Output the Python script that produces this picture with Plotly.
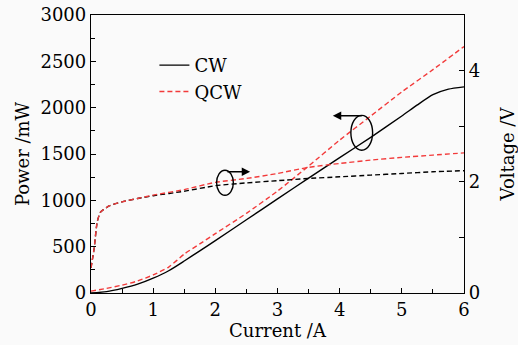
import plotly.graph_objects as go

# Power data (mW)
cw_current = [0, 0.25, 0.5, 0.75, 1, 1.25, 1.5, 1.75, 2, 2.5, 3, 3.5, 4, 4.5, 5, 5.25, 5.5, 5.75, 6]
cw_power = [0, 15, 50, 95, 160, 240, 345, 455, 565, 790, 1015, 1240, 1460, 1680, 1910, 2030, 2140, 2200, 2225]

qcw_current = [0, 0.25, 0.5, 0.75, 1, 1.25, 1.5, 1.75, 2, 2.5, 3, 3.5, 4, 4.5, 5, 5.5, 6]
qcw_power = [20, 50, 85, 130, 195, 280, 420, 530, 640, 860, 1100, 1370, 1650, 1910, 2170, 2410, 2660]

# Voltage data (V)
v_current = [0, 0.05, 0.1, 0.15, 0.2, 0.3, 0.5, 0.75, 1, 1.5, 2, 2.5, 3, 3.5, 4, 4.5, 5, 5.5, 6]
cw_voltage = [0.45, 0.8, 1.28, 1.45, 1.5, 1.57, 1.64, 1.7, 1.75, 1.83, 1.93, 1.98, 2.02, 2.06, 2.09, 2.12, 2.15, 2.18, 2.2]
qcw_voltage = [0.45, 0.8, 1.28, 1.45, 1.5, 1.57, 1.64, 1.7, 1.76, 1.86, 1.99, 2.06, 2.15, 2.26, 2.33, 2.39, 2.44, 2.48, 2.52]

voltage_ticks = [0, 1, 2, 3, 4, 5]
voltage_ticktext = ["0", "", "2", "", "4", ""]

RED = "#f23a3a"
FONT = "DejaVu Serif"
FS = 18

fig = go.Figure()
fig.add_trace(go.Scatter(x=cw_current, y=cw_power, name="CW", mode="lines",
                         line=dict(color="black", width=1.4, shape="spline", smoothing=0.6)))
fig.add_trace(go.Scatter(x=qcw_current, y=qcw_power, name="QCW", mode="lines",
                         line=dict(color=RED, width=1.4, dash="5px,3px", shape="spline", smoothing=0.6)))
fig.add_trace(go.Scatter(x=v_current, y=cw_voltage, yaxis="y2", mode="lines", showlegend=False,
                         line=dict(color="black", width=1.4, dash="5px,3px", shape="spline", smoothing=0.6)))
fig.add_trace(go.Scatter(x=v_current, y=qcw_voltage, yaxis="y2", mode="lines", showlegend=False,
                         line=dict(color=RED, width=1.4, dash="5px,3px", shape="spline", smoothing=0.6)))

# ellipses marking the axes
fig.add_shape(type="circle", xref="x", yref="y", x0=2.02, x1=2.29, y0=1055, y1=1325,
              line=dict(color="black", width=1.4))
fig.add_shape(type="circle", xref="x", yref="y", x0=4.18, x1=4.53, y0=1540, y1=1917,
              line=dict(color="black", width=1.4))
fig.add_annotation(x=2.56, y=1309, ax=2.17, ay=1309, xref="x", yref="y", axref="x", ayref="y",
                   text="", showarrow=True, arrowhead=2, arrowsize=1.2, arrowwidth=1.4, arrowcolor="black")
fig.add_annotation(x=3.89, y=1912, ax=4.38, ay=1912, xref="x", yref="y", axref="x", ayref="y",
                   text="", showarrow=True, arrowhead=2, arrowsize=1.2, arrowwidth=1.4, arrowcolor="black")

fig.update_layout(
    width=518, height=345,
    margin=dict(l=91, r=54, t=15, b=52, autoexpand=False),
    paper_bgcolor="#fafafa", plot_bgcolor="#fafafa",
    font=dict(family=FONT, size=FS, color="black"),
    showlegend=True,
    legend=dict(x=0.17, y=0.885, xanchor="left", yanchor="top", bgcolor="rgba(0,0,0,0)",
                font=dict(family=FONT, size=FS), tracegroupgap=0, itemwidth=30),
    xaxis=dict(range=[0, 6], dtick=1, showgrid=False, zeroline=False, automargin=False,
               showline=True, mirror=True, linecolor="black", linewidth=1.3,
               ticks="inside", ticklen=5, tickcolor="black",
               minor=dict(ticks="inside", ticklen=4, dtick=0.5, tickcolor="black"),
               title=dict(text="Current /A", standoff=2, font=dict(size=FS))),
    yaxis=dict(range=[0, 3000], dtick=500, showgrid=False, zeroline=False, automargin=False,
               showline=True, mirror=True, linecolor="black", linewidth=1.3,
               ticks="inside", ticklen=5, tickcolor="black",
               minor=dict(ticks="inside", ticklen=4, dtick=250, tickcolor="black"),
               title=dict(text="Power /mW", standoff=6, font=dict(size=FS))),
    yaxis2=dict(range=[0, 5], overlaying="y", side="right", tickvals=voltage_ticks,
                ticktext=voltage_ticktext, showgrid=False, zeroline=False, automargin=False,
                showline=True, linecolor="black", linewidth=1.3,
                ticks="inside", ticklen=5, tickcolor="black",
                title=dict(text="Voltage /V", standoff=22, font=dict(size=FS))),
)

# remove the browser's default 8px page margin so the figure sits at the window origin
fig.write_html("out.html", config={"displayModeBar": False},
               post_script="document.body.style.margin='0px';")
